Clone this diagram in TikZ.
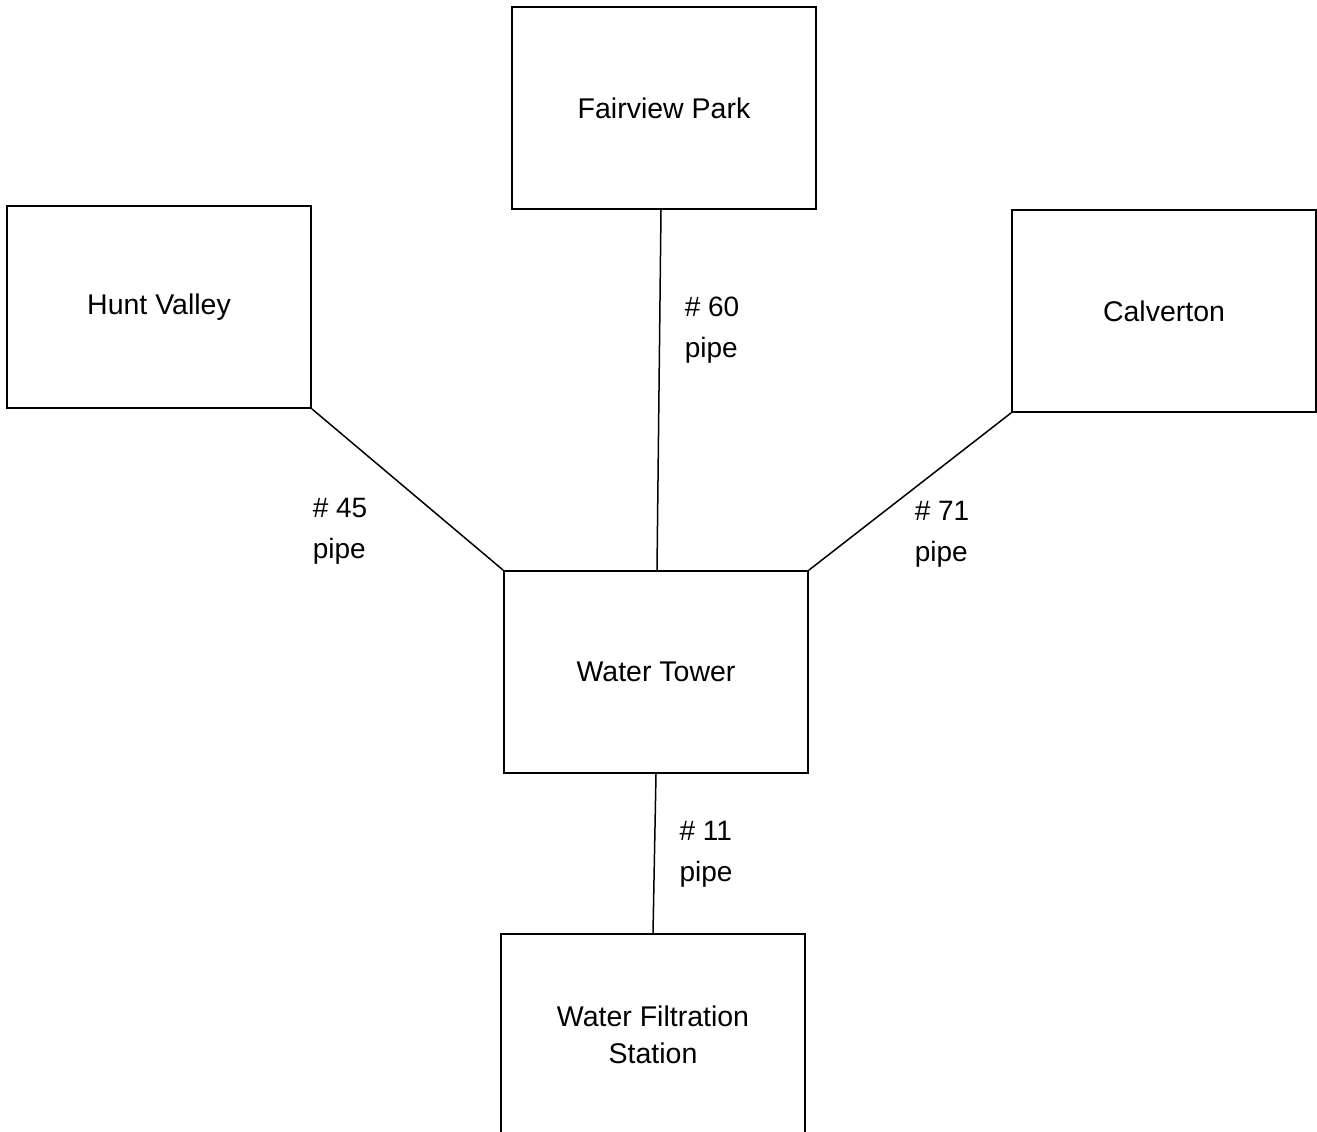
\documentclass[tikz,border=0pt]{standalone}
\usepackage{fontspec}
\setmainfont{Liberation Sans}
\usetikzlibrary{calc}
\begin{document}
\begin{tikzpicture}[x=1pt,y=-1pt,
  place/.style={draw,line width=1.8pt,minimum width=304pt,minimum height=202pt,inner sep=0pt,align=center,font=\fontsize{28.5}{37}\selectfont},
  pipelabel/.style={align=left,inner sep=0pt,font=\fontsize{28}{41}\selectfont},
  pipeline/.style={line width=1.5pt}]
\useasboundingbox (0,0) rectangle (1317,1132);
\node[place] (fp) at (664,108) {Fairview Park};
\node[place] (hv) at (159,307) {Hunt Valley\strut};
\node[place] (cv) at (1164,311) {Calverton};
\node[place] (wt) at (656,672) {Water Tower};
\node[place] (wf) at (653,1035) {Water Filtration\\Station};
\draw[pipeline] ($(fp.south)+(-3,0)$) -- ($(wt.north)+(1,0)$);
\draw[pipeline] (hv.south east) -- (wt.north west);
\draw[pipeline] (cv.south west) -- (wt.north east);
\draw[pipeline] (wt.south) -- (wf.north);
\node[pipelabel] (l60) at (712,330) {\# 60\\pipe};
\node[pipelabel] (l45) at (340,531) {\# 45\\pipe};
\node[pipelabel] (l71) at (942,534) {\# 71\\pipe};
\node[pipelabel] (l11) at (706,854) {\# 11\\pipe};
\end{tikzpicture}
\end{document}
